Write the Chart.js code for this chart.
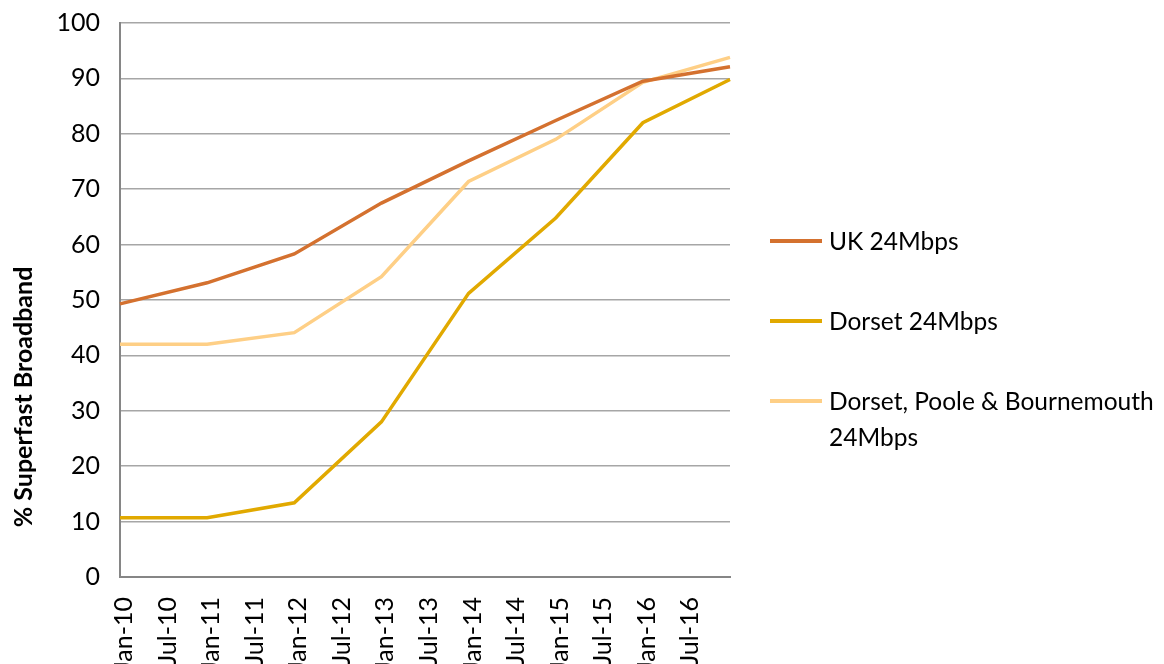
<!DOCTYPE html>
<html>
<head>
<meta charset="utf-8">
<script src="https://cdn.jsdelivr.net/npm/chart.js@4.4.1/dist/chart.umd.min.js"></script>
<style>
  html, body { margin: 0; padding: 0; background: #fff; overflow: hidden; }
  #wrap { position: relative; width: 1164px; height: 664px; }
  #legend { position: absolute; left: 770px; top: 223px; font-family: Lato, "Open Sans", sans-serif; font-size: 24.5px; color: #000; }
  .item { display: flex; align-items: flex-start; margin-bottom: 44px; }
  .swatch { width: 52px; height: 4px; margin-top: 16px; margin-right: 7px; flex: none; }
  .label { line-height: 36px; width: 340px; }
</style>
</head>
<body>
<div id="wrap">
  <canvas id="chart" width="1164" height="664"></canvas>
  <div id="legend"></div>
</div>
<script>
// half-year categories, last one (Jan-17) has no label on the axis
const categories = ['Jan-10', 'Jul-10', 'Jan-11', 'Jul-11', 'Jan-12', 'Jul-12', 'Jan-13', 'Jul-13',
  'Jan-14', 'Jul-14', 'Jan-15', 'Jul-15', 'Jan-16', 'Jul-16', 'Jan-17'];
const tickLabels = ['Jan-10', 'Jul-10', 'Jan-11', 'Jul-11', 'Jan-12', 'Jul-12', 'Jan-13', 'Jul-13',
  'Jan-14', 'Jul-14', 'Jan-15', 'Jul-15', 'Jan-16', 'Jul-16'];

// values only measured each January
const ukValues = [49.3, null, 53.1, null, 58.3, null, 67.5, null, 75.1, null, 82.4, null, 89.5, null, 92.1];
const dorsetValues = [10.7, null, 10.7, null, 13.4, null, 28.0, null, 51.2, null, 64.8, null, 82.0, null, 89.8];
const dpbValues = [42.0, null, 42.0, null, 44.1, null, 54.2, null, 71.4, null, 79.0, null, 89.3, null, 93.8];

const yTicks = [0, 10, 20, 30, 40, 50, 60, 70, 80, 90, 100];

const FONT = 'Lato, "Open Sans", sans-serif';

// y axis title sits a bit lower than the plot centre, like the original
const yTitlePlugin = {
  id: 'yTitle',
  afterDraw(chart) {
    const ctx = chart.ctx;
    const area = chart.chartArea;
    ctx.save();
    ctx.translate(24, area.top + (area.bottom - area.top) * 0.675);
    ctx.rotate(-Math.PI / 2);
    ctx.font = 'bold 25px ' + FONT;
    ctx.fillStyle = '#000';
    ctx.textAlign = 'center';
    ctx.textBaseline = 'middle';
    ctx.fillText('% Superfast Broadband', 0, 0);
    ctx.restore();
  }
};

const datasets = [
  { label: 'UK 24Mbps', data: ukValues, borderColor: '#D4712F' },
  { label: 'Dorset 24Mbps', data: dorsetValues, borderColor: '#E1A900' },
  { label: 'Dorset, Poole & Bournemouth 24Mbps', data: dpbValues, borderColor: '#FECF86' }
].map(d => Object.assign(d, {
  borderWidth: 3.5,
  pointRadius: 0,
  tension: 0,
  spanGaps: true,
  fill: false
}));

const chart = new Chart(document.getElementById('chart'), {
  type: 'line',
  data: { labels: categories, datasets: datasets },
  plugins: [yTitlePlugin],
  options: {
    responsive: false,
    animation: false,
    layout: { padding: { top: 23, right: 434, left: 0, bottom: 0 } },
    plugins: {
      legend: { display: false },
      tooltip: { enabled: false }
    },
    scales: {
      x: {
        offset: false,
        grid: { display: false, drawTicks: false },
        border: { display: true, color: '#868686', width: 2 },
        ticks: {
          autoSkip: false,
          minRotation: 90,
          maxRotation: 90,
          padding: 20,
          labelOffset: 4,
          color: '#000',
          font: { family: FONT, size: 25 },
          callback: function(value, index) {
            return tickLabels[index] || '';
          }
        },
        afterFit: function(scale) {
          scale.height = 87;
          scale.paddingLeft = 0;
          scale.paddingRight = 0;
        }
      },
      y: {
        min: 0,
        max: 100,
        afterBuildTicks: function(scale) {
          scale.ticks = yTicks.map(v => ({ value: v }));
        },
        grid: { color: '#a6a6a6', lineWidth: 1.5, drawTicks: false },
        border: { display: true, color: '#868686', width: 2 },
        ticks: {
          padding: 20,
          color: '#000',
          font: { family: FONT, size: 25 }
        },
        afterFit: function(scale) {
          scale.width = 120;
          scale.paddingTop = 0;
          scale.paddingBottom = 0;
        }
      }
    }
  }
});

// html legend so the long label can wrap onto two lines
const legend = document.getElementById('legend');
datasets.forEach(d => {
  const item = document.createElement('div');
  item.className = 'item';
  const sw = document.createElement('div');
  sw.className = 'swatch';
  sw.style.background = d.borderColor;
  const lb = document.createElement('div');
  lb.className = 'label';
  lb.textContent = d.label;
  item.appendChild(sw);
  item.appendChild(lb);
  legend.appendChild(item);
});
</script>
</body>
</html>
